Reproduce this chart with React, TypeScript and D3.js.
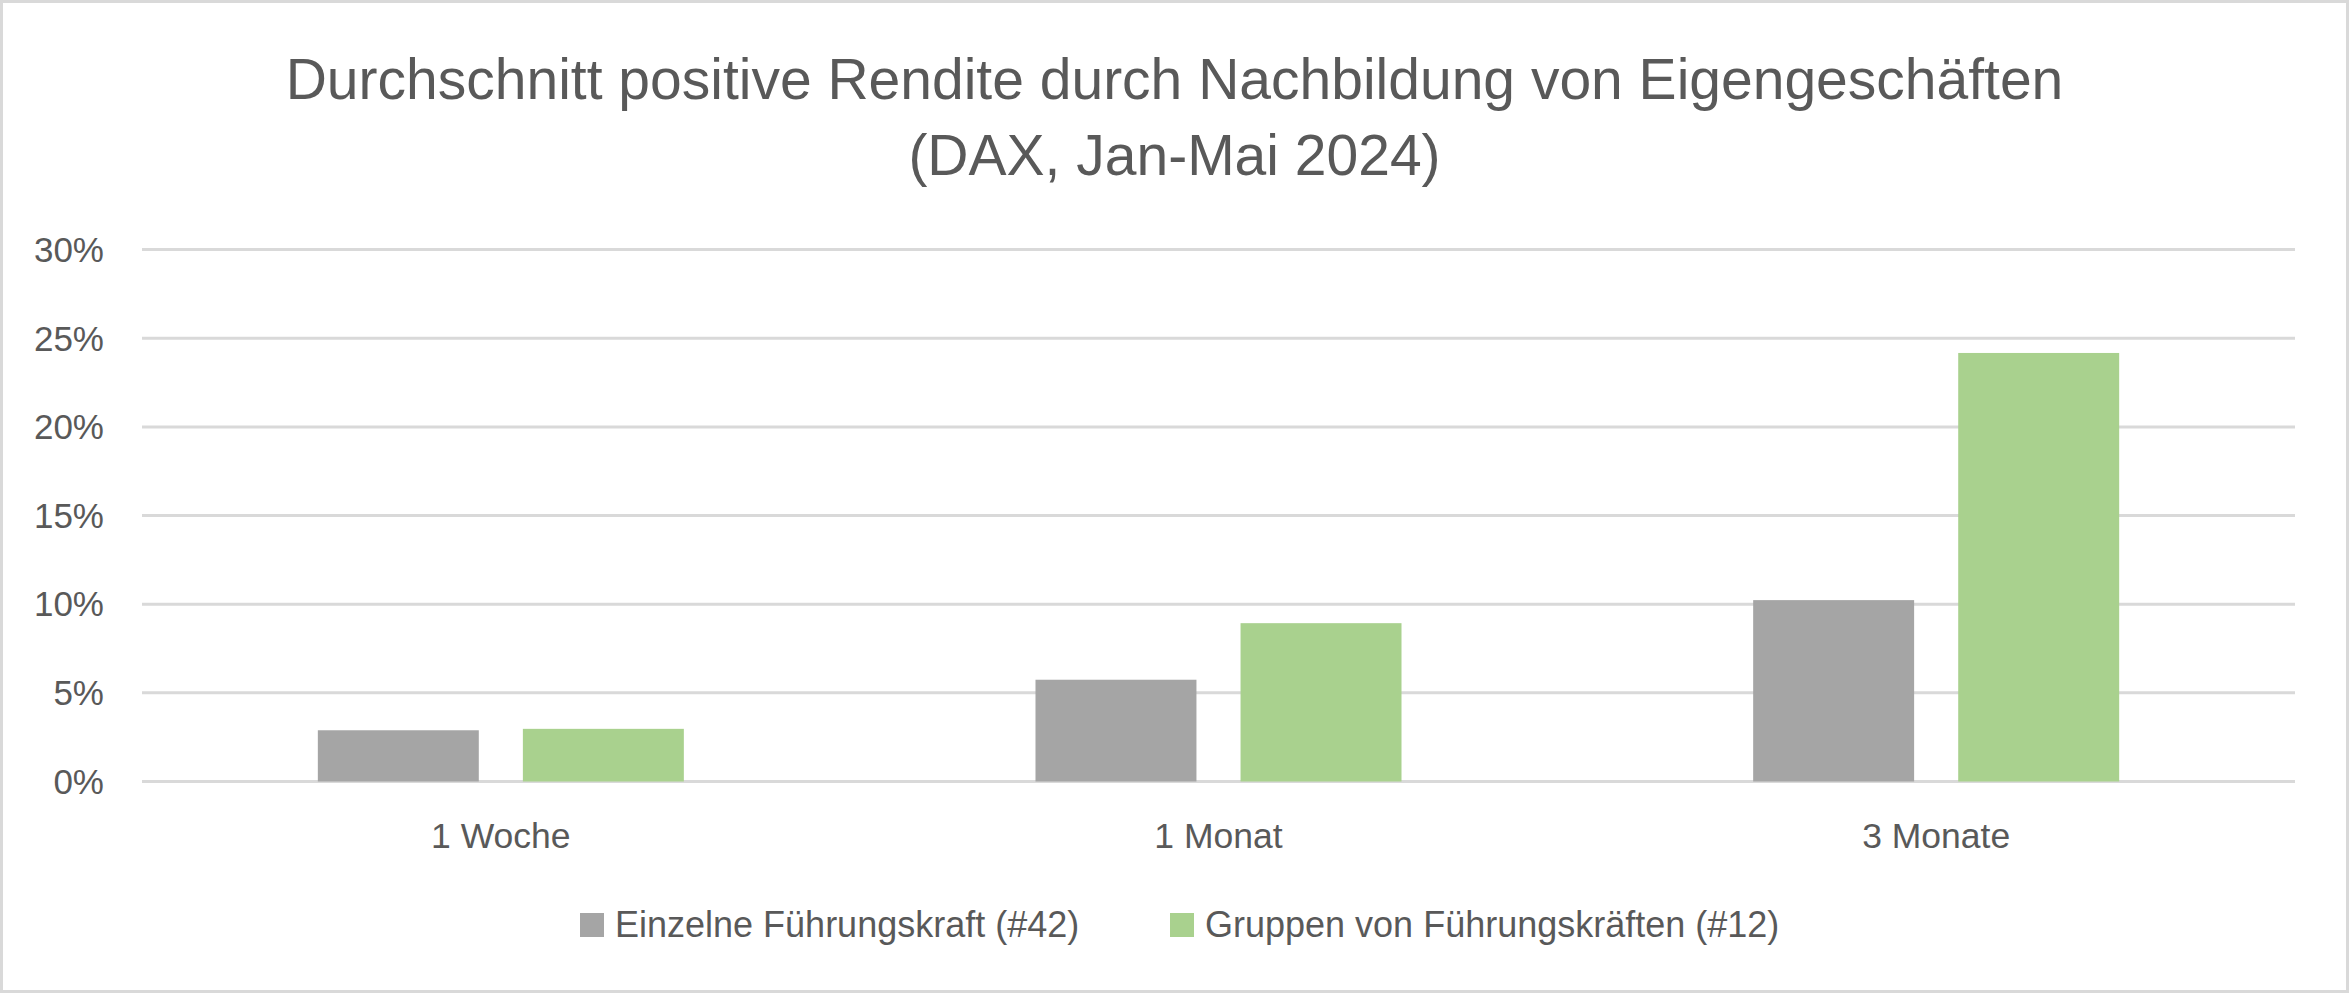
import React, { useEffect, useRef } from "react";
import * as d3 from "d3";

const categories = ["1 Woche", "1 Monat", "3 Monate"];
const seriesNames = ["Einzelne Führungskraft (#42)", "Gruppen von Führungskräften (#12)"];
const einzelne = [0.0289, 0.0574, 0.1023];
const gruppen = [0.0297, 0.0893, 0.2417];
const yTicks = [0, 0.05, 0.1, 0.15, 0.2, 0.25, 0.3];
const titleLines = ["Durchschnitt positive Rendite durch Nachbildung von Eigengeschäften", "(DAX, Jan-Mai 2024)"];

const W = 2349;
const H = 993;
const FONT = "'Liberation Sans', Arial, sans-serif";
const TEXT = "#595959";
const GRID = "#d9d9d9";
const COLORS = ["#a5a5a5", "#a9d18e"];

export default function App() {
  const ref = useRef<SVGSVGElement>(null);

  useEffect(() => {
    const svg = d3.select(ref.current);
    svg.selectAll("*").remove();

    const left = 142, right = 2295, top = 249.6, bottom = 781.5;

    svg.append("rect").attr("x", 1.5).attr("y", 1.5).attr("width", W - 3).attr("height", H - 3)
      .attr("fill", "#fff").attr("stroke", GRID).attr("stroke-width", 3);

    svg.selectAll("text.title").data(titleLines).enter().append("text")
      .attr("x", W / 2).attr("y", (_d, i) => 98.5 + i * 76.7)
      .attr("text-anchor", "middle").attr("font-family", FONT).attr("font-size", 57)
      .attr("fill", TEXT).text(d => d);

    const y = d3.scaleLinear().domain([0, 0.3]).range([bottom, top]);
    const x0 = d3.scaleBand().domain(categories).range([left, right]).paddingInner(0).paddingOuter(0);
    const groupW = x0.bandwidth() * 0.51;
    const x1 = d3.scaleBand().domain(["0", "1"]).range([(x0.bandwidth() - groupW) / 2, (x0.bandwidth() + groupW) / 2]).paddingInner(0.215);

    svg.append("g").selectAll("line").data(yTicks).enter().append("line")
      .attr("x1", left).attr("x2", right).attr("y1", d => y(d)).attr("y2", d => y(d))
      .attr("stroke", GRID).attr("stroke-width", 3);

    svg.append("g").selectAll("text").data(yTicks).enter().append("text")
      .attr("x", 104).attr("y", d => y(d)).attr("dy", "0.35em").attr("text-anchor", "end")
      .attr("font-family", FONT).attr("font-size", 35).attr("fill", TEXT)
      .text(d => d3.format(".0%")(d));

    const series = [einzelne, gruppen];
    series.forEach((vals, si) => {
      svg.append("g").selectAll("rect").data(vals).enter().append("rect")
        .attr("x", (_d, i) => (x0(categories[i]) as number) + (x1(String(si)) as number))
        .attr("width", x1.bandwidth())
        .attr("y", d => y(d)).attr("height", d => bottom - y(d))
        .attr("fill", COLORS[si]);
    });

    svg.append("g").selectAll("text").data(categories).enter().append("text")
      .attr("x", d => (x0(d) as number) + x0.bandwidth() / 2).attr("y", 847.5)
      .attr("text-anchor", "middle").attr("font-family", FONT).attr("font-size", 35.5)
      .attr("fill", TEXT).text(d => d);

    const legendX = [580, 1170];
    seriesNames.forEach((name, i) => {
      const g = svg.append("g").attr("transform", `translate(${legendX[i]},0)`);
      g.append("rect").attr("x", 0).attr("y", 913).attr("width", 24).attr("height", 24).attr("fill", COLORS[i]);
      g.append("text").attr("x", 35).attr("y", 937).attr("font-family", FONT).attr("font-size", 36)
        .attr("fill", TEXT).text(name);
    });
  }, []);

  return (
    <div>
      <style>{`body{margin:0;}`}</style>
      <svg ref={ref} width={W} height={H} style={{ display: "block" }} />
    </div>
  );
}
